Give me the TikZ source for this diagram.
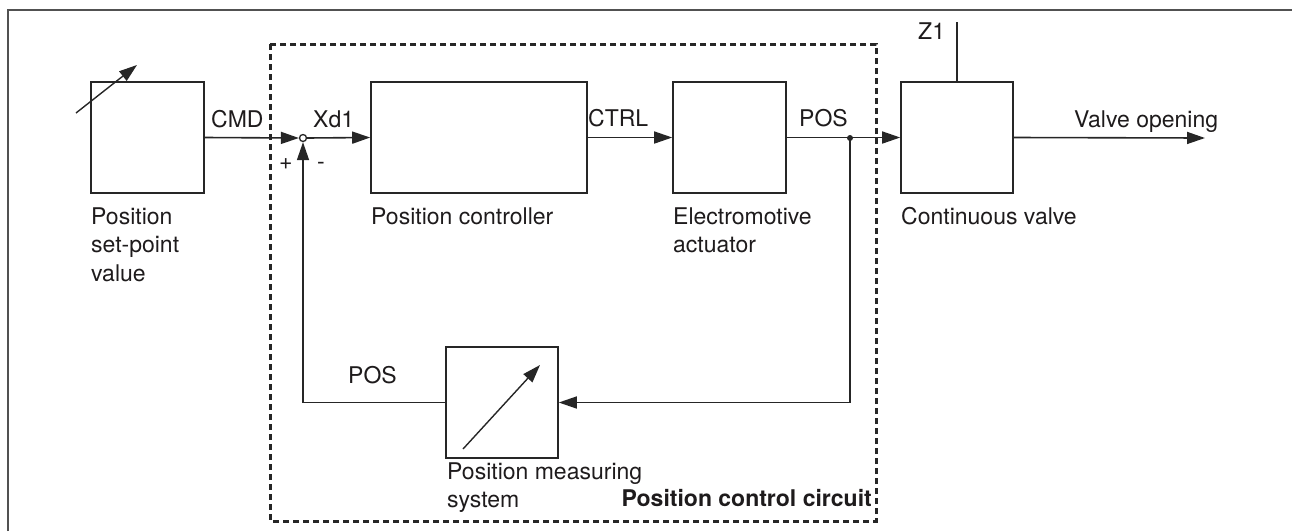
\documentclass[tikz,border=0pt]{standalone}
\usepackage{fontspec}
\setmainfont{TeX Gyre Heros}
\usetikzlibrary{arrows.meta}
\definecolor{ln}{HTML}{262626}
\definecolor{tx}{HTML}{1E1B1C}
\begin{document}
\begin{tikzpicture}[x=1pt,y=-1pt,
  blk/.style={draw=ln,line width=1.6pt,minimum width=#1,minimum height=111pt,inner sep=0pt},
  wire/.style={draw=ln,line width=1.6pt},
  arr/.style={wire,-{Triangle[length=18pt,width=12pt]}},
  lbl/.style={text=tx,font=\fontsize{23}{28.5}\selectfont,inner sep=0pt,anchor=base west},
  mlbl/.style={text=tx,font=\fontsize{23}{28.5}\selectfont,inner sep=0pt,anchor=north west,align=left}]
\useasboundingbox (0,0) rectangle (1292,531);
% outer frame (open to right and bottom)
\draw[draw=ln!80,line width=1.8pt] (8,531) -- (8,10) -- (1292,10);
% dashed circuit frame
\draw[draw=ln,line width=3pt,dash pattern=on 6pt off 4pt] (270,44) rectangle (876,521);
% blocks
\node[blk=113pt] (sp) at (147.5,137.5) {};
\node[blk=216pt] (ctrl) at (479,137.5) {};
\node[blk=113pt] (act) at (729.5,137.5) {};
\node[blk=112pt] (valve) at (957,137.5) {};
\node[blk=112pt] (meas) at (502,402.5) {};
\node[circle,draw=ln,line width=1.3pt,fill=white,minimum size=7pt,inner sep=0pt] (sum) at (303,138) {};
\coordinate (dot) at (850,138);
\coordinate (vo) at (1205,138);
\coordinate (z1) at (957,22);
\coordinate (spa) at (76,113);
\coordinate (spb) at (137,65);
\coordinate (msa) at (463,449);
\coordinate (msb) at (540,365);
% connectors
\draw[arr] (sp.east) -- (sum.west);
\draw[arr] (sum.east) -- (ctrl.west);
\draw[arr] (ctrl.east) -- (act.west);
\draw[arr] (act.east) -- (valve.west);
\draw[arr] (valve.east) -- (vo);
\draw[arr] (dot) |- (meas.east);
\draw[arr] (meas.west) -| (sum.south);
\draw[wire] (valve.north) -- (z1);
\fill[ln] (dot) circle (3pt);
% adjustment arrows
\draw[draw=ln,line width=1.4pt,-{Triangle[length=18pt,width=12pt]}] (spa) -- (spb);
\draw[draw=ln,line width=1.4pt,-{Triangle[length=18pt,width=12pt]}] (msa) -- (msb);
% labels
\node[lbl] (tcmd) at (211,127) {CMD};
\node[lbl] (txd) at (313,127) {Xd1};
\node[lbl] (tctrl) at (588,126) {CTRL};
\node[lbl] (tpos) at (799,126) {POS};
\node[lbl] (tz) at (918,39) {Z1};
\node[lbl] (tvo) at (1074,127) {Valve opening};
\node[lbl] (tpos2) at (348,383) {POS};
\node[lbl] (tplus) at (279,169) {+};
\node[lbl] (tminus) at (317,169) {-};
\node[mlbl] (tsp) at (91,207.5) {Position\\set-point\\value};
\node[mlbl] (tctl) at (371,207.5) {Position controller};
\node[mlbl] (tact) at (673,207.5) {Electromotive\\actuator};
\node[mlbl] (tval) at (901,207.5) {Continuous valve};
\node[mlbl] (tms) at (447,462.5) {Position measuring\\system};
\node[lbl,font=\fontsize{23}{28.5}\selectfont\bfseries,anchor=base east] (tpcc) at (872,506) {Position control circuit};
\end{tikzpicture}
\end{document}
